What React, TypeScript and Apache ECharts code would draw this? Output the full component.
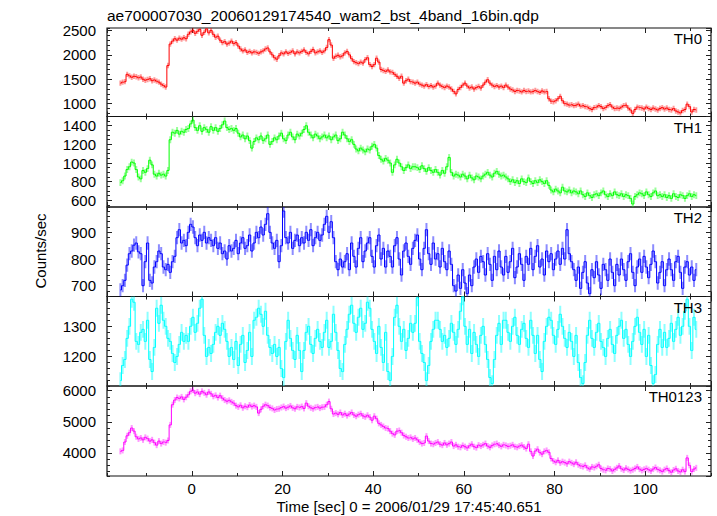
import React, { useEffect, useRef } from "react";
import * as echarts from "echarts";

const TITLE = "ae700007030_20060129174540_wam2_bst_4band_16bin.qdp";
const X_NAME = "Time [sec] 0 = 2006/01/29 17:45:40.651";
const Y_NAME = "Counts/sec";
const PANEL_NAMES = ["TH0", "TH1", "TH2", "TH3", "TH0123"];

// time bins: centre of first bin and bin width (sec)
const T_START = -15.75;
const BIN = 0.5;
const X_MIN = -18.7;
const X_MAX = 114.5;
const X_MAJOR = 20;
const X_MINOR = 10;

const TH0 = [
  1420, 1440, 1450, 1600, 1570, 1540, 1560, 1550, 1530, 1545,
  1500, 1480, 1495, 1510, 1470, 1485, 1460, 1440, 1400, 1370,
  1340, 1780, 2220, 2280, 2330, 2300, 2340, 2320, 2350, 2330,
  2420, 2470, 2500, 2440, 2480, 2520, 2400, 2460, 2530, 2450,
  2500, 2420, 2360, 2380, 2300, 2250, 2270, 2220, 2240, 2280,
  2230, 2250, 2180, 2120, 2080, 2100, 2050, 2070, 2040, 2060,
  2050, 2030, 2060, 2080, 2120, 2140, 2060, 2000, 1940, 1910,
  1980, 2040, 2020, 2060, 2030, 2050, 2080, 2020, 2060, 2040,
  2070, 2100, 2050, 2020, 2070, 2110, 2040, 2060, 2080, 2050,
  2080, 2150, 2310, 2200, 1930, 1970, 1990, 1960, 1980, 2040,
  2070, 2000, 1920, 1860, 1840, 1820, 1850, 1830, 1900, 1940,
  1800, 1760, 1800, 1930, 1850, 1700, 1680, 1660, 1690, 1650,
  1640, 1600, 1560, 1520, 1560, 1420, 1470, 1500, 1450, 1440,
  1420, 1440, 1400, 1380, 1360, 1390, 1350, 1370, 1340, 1360,
  1420, 1380, 1350, 1330, 1360, 1340, 1300, 1250, 1200, 1290,
  1330, 1380, 1420, 1360, 1320, 1340, 1300, 1330, 1350, 1320,
  1380, 1440, 1490, 1420, 1380, 1350, 1370, 1340, 1360, 1330,
  1380, 1340, 1300, 1280, 1250, 1270, 1260, 1240, 1270, 1250,
  1260, 1240, 1250, 1270, 1250, 1230, 1260, 1240, 1250, 1100,
  1050, 1040, 1060, 1100, 1150, 1060, 1000, 990, 970, 980,
  960, 970, 990, 950, 960, 940, 930, 900, 880, 920,
  930, 960, 940, 900, 920, 960, 980, 930, 900, 910,
  900, 930, 960, 970, 910, 870, 800, 880, 930, 920,
  910, 890, 930, 900, 880, 910, 890, 870, 900, 920,
  890, 910, 880, 870, 900, 850, 830, 810, 860, 880,
  990, 940, 830, 880, 870,
];

const TH1 = [
  790, 810, 860, 930, 960, 1010, 1000, 930, 850, 830,
  920, 900, 940, 1030, 980, 880, 860, 890, 870, 880,
  860, 920, 1250, 1330, 1320, 1350, 1310, 1340, 1330, 1360,
  1370, 1420, 1460, 1380, 1350, 1400, 1340, 1380, 1360, 1330,
  1390, 1350, 1380, 1340, 1370, 1410, 1450, 1380, 1360, 1370,
  1350, 1370, 1320, 1280, 1300, 1260, 1290, 1240, 1160, 1230,
  1270, 1250, 1290, 1240, 1260, 1300, 1200, 1230, 1270, 1250,
  1290, 1320, 1260, 1240, 1300, 1330, 1280, 1250, 1310, 1290,
  1320, 1360, 1400, 1330, 1300, 1270, 1310, 1290, 1260, 1280,
  1300, 1270, 1290, 1250, 1280, 1300, 1240, 1260, 1330, 1300,
  1260, 1230, 1250, 1200, 1150, 1130, 1160, 1140, 1120, 1150,
  1140, 1180, 1200, 1160, 1080, 1040, 1020, 1050, 1030, 1000,
  900, 980, 1040, 1000, 960, 920, 950, 980, 940, 960,
  960, 950, 930, 970, 940, 910, 950, 920, 900, 930,
  900, 870, 920, 890, 960, 1060, 900, 860, 880, 870,
  850, 880, 860, 830, 870, 840, 820, 860, 850, 830,
  860, 880, 900, 870, 850, 890, 910, 880, 860, 870,
  850, 830, 800, 820, 790, 810, 780, 830, 800, 790,
  840, 800, 780, 810, 790, 820, 800, 780, 810, 760,
  710, 690, 720, 700, 680, 740, 700, 690, 710, 680,
  700, 690, 670, 700, 660, 640, 680, 650, 630, 660,
  670, 650, 680, 700, 660, 640, 670, 650, 690, 660,
  650, 670, 640, 660, 650, 620, 560, 640, 660, 680,
  670, 650, 690, 660, 640, 680, 700, 650, 660, 640,
  660, 630, 650, 620, 670, 640, 630, 660, 650, 620,
  650, 670, 640, 660, 650,
];

const TH2 = [
  684, 700, 720, 777, 820, 830, 852, 860, 827, 820,
  700, 790, 860, 720, 710, 770, 790, 830, 820, 770,
  760, 780, 750, 790, 810, 880, 910, 860, 870, 850,
  900, 930, 920, 880, 850, 890, 870, 900, 860, 880,
  870, 850, 880, 840, 860, 820, 830, 800, 850, 830,
  840, 870, 820, 860, 880, 840, 850, 890, 830, 860,
  900, 880, 920, 890, 930, 970, 900, 860, 840, 870,
  790, 850, 980, 880, 860, 900, 840, 870, 890, 850,
  880, 860, 900, 870, 910, 850, 880, 900, 870, 890,
  930, 960, 900, 940, 880, 790, 760, 800, 770, 790,
  820, 760, 860, 810, 770, 840, 880, 790, 830, 860,
  880, 810, 770, 850, 890, 800, 840, 770, 830, 810,
  770, 850, 880, 800, 740, 830, 860, 810, 780, 840,
  870, 890, 800, 760, 840, 910, 820, 780, 860, 800,
  820, 770, 840, 790, 760, 830, 780, 700, 680, 740,
  690, 760, 710, 670, 740, 700, 770, 800, 750, 810,
  790, 740, 820, 780, 720, 810, 760, 830, 770, 740,
  810, 750, 790, 840, 730, 770, 820, 780, 720, 810,
  780, 840, 760, 810, 850, 770, 800, 740, 830, 790,
  820, 760, 800, 830, 780, 840, 800, 910, 820, 790,
  760, 720, 770, 690, 750, 790, 710, 670, 760, 730,
  790, 740, 690, 780, 760, 720, 800, 750, 700, 780,
  740, 800, 760, 720, 790, 820, 750, 700, 770, 800,
  750, 810, 770, 730, 780, 830, 790, 710, 750, 790,
  700, 760, 800, 760, 720, 790, 810, 750, 690, 770,
  790, 740, 770, 720, 760,
];

const TH3 = [
  1120, 1170, 1190, 1260, 1300, 1390, 1380, 1250, 1240, 1280,
  1290, 1250, 1320, 1190, 1150, 1230, 1360, 1310, 1370, 1320,
  1300, 1260, 1250, 1210, 1180, 1200, 1240, 1280, 1250, 1270,
  1250, 1300, 1330, 1280, 1310, 1360, 1390, 1270, 1200, 1230,
  1210, 1240, 1280, 1300, 1270, 1310, 1290, 1250, 1200, 1230,
  1190, 1250, 1170, 1240, 1270, 1180, 1220, 1280, 1200, 1320,
  1330, 1360, 1340, 1300, 1350, 1270, 1230, 1210, 1240, 1200,
  1230, 1160, 1130, 1250, 1320, 1260, 1220, 1190, 1270, 1220,
  1150, 1220, 1280, 1300, 1240, 1210, 1260, 1290, 1250, 1230,
  1280, 1320, 1230, 1250, 1340, 1280, 1220, 1160, 1150, 1240,
  1290, 1340, 1370, 1310, 1280, 1330, 1360, 1290, 1310, 1380,
  1360, 1290, 1250, 1210, 1300, 1230, 1180, 1280, 1150, 1120,
  1200, 1330, 1370, 1300, 1250, 1290, 1220, 1260, 1310, 1280,
  1310, 1395, 1250, 1210, 1180, 1120, 1170, 1250, 1290, 1320,
  1320, 1290, 1250, 1270, 1230, 1260, 1310, 1280, 1240, 1290,
  1350, 1398, 1300, 1240, 1290, 1210, 1280, 1240, 1200, 1270,
  1300, 1240, 1190, 1130, 1110, 1190, 1270, 1310, 1240, 1320,
  1320, 1280, 1250, 1300, 1330, 1270, 1240, 1290, 1310, 1260,
  1230, 1320, 1270, 1210, 1270, 1190, 1150, 1250, 1300, 1330,
  1320, 1270, 1240, 1290, 1340, 1300, 1260, 1230, 1280, 1250,
  1200, 1270, 1180, 1130, 1110, 1180, 1270, 1320, 1260, 1230,
  1280, 1310, 1250, 1230, 1200, 1260, 1290, 1240, 1210, 1270,
  1300, 1320, 1260, 1290, 1240, 1200, 1250, 1300, 1330, 1280,
  1240, 1290, 1200, 1270, 1170, 1110, 1140, 1240, 1290, 1230,
  1280, 1230, 1260, 1310, 1250, 1290, 1330, 1270, 1300, 1350,
  1390, 1300, 1220, 1330, 1290,
];

const TH0123 = [
  4050, 4080, 4350, 4550, 4650, 4800, 4700, 4520, 4450, 4480,
  4420, 4500, 4460, 4380, 4420, 4330, 4250, 4380, 4300, 4350,
  4330, 4400, 4900, 5550, 5700, 5780, 5750, 5800, 5720, 5790,
  5870, 5980, 6020, 5920, 5960, 5890, 5980, 5930, 5870, 5960,
  5900, 5820, 5850, 5780, 5840, 5760, 5700, 5660, 5690, 5640,
  5600, 5520, 5480, 5530, 5450, 5500, 5470, 5540, 5490, 5520,
  5480, 5280, 5400, 5500, 5550, 5520, 5460, 5430, 5380, 5410,
  5420, 5460, 5490, 5440, 5470, 5510, 5450, 5420, 5480, 5460,
  5490, 5430, 5600, 5500, 5450, 5420, 5460, 5480, 5440, 5470,
  5480, 5550, 5650, 5420, 5250, 5280, 5240, 5300, 5220, 5260,
  5200, 5250, 5300, 5220, 5180, 5230, 5260, 5190, 5160, 5210,
  5150, 5050, 5180, 5100, 4950, 4900, 4850, 4800, 4780, 4700,
  4620, 4580, 4700, 4720, 4650, 4560, 4520, 4480, 4500, 4450,
  4480, 4420, 4350, 4300, 4320, 4540, 4380, 4300, 4280, 4320,
  4350, 4280, 4250, 4320, 4260, 4300, 4350, 4220, 4260, 4200,
  4180, 4240, 4200, 4160, 4230, 4280, 4200, 4170, 4250, 4220,
  4260, 4300, 4220, 4180, 4240, 4280, 4300, 4250, 4210, 4260,
  4240, 4210, 4230, 4260, 4200, 4180, 4220, 4250, 4190, 4140,
  4280, 4050, 3900, 4060, 4120, 4010, 3960, 4050, 4080, 4020,
  3820, 3740, 3700, 3760, 3680, 3720, 3690, 3650, 3720, 3680,
  3640, 3700, 3620, 3580, 3560, 3600, 3520, 3480, 3550, 3530,
  3570, 3620, 3500, 3460, 3440, 3500, 3480, 3420, 3470, 3520,
  3580, 3490, 3450, 3510, 3470, 3430, 3460, 3500, 3550, 3480,
  3440, 3470, 3500, 3460, 3420, 3480, 3530, 3470, 3440, 3400,
  3460, 3500, 3430, 3380, 3450, 3490, 3420, 3390, 3460, 3400,
  3840, 3600, 3400, 3480, 3520,
];

const SERIES_VALUES = [TH0, TH1, TH2, TH3, TH0123];
const ERRORS = [55, 37, 25, 28, 97];
const Y_MINS = [737, 528, 659.5, 1102, 3258];
const Y_MAXS = [2549, 1499, 995, 1399, 6151];
const Y_MAJOR = [500, 200, 100, 100, 1000];
const Y_MINOR = [100, 50, 20, 20, 200];

const LINE_COLORS = ["#ff0000", "#00ff00", "#0000ff", "#00ffff", "#ff00ff"];
const ERR_COLORS = [
  "rgba(255,0,0,0.4)",
  "rgba(0,255,0,0.4)",
  "rgba(0,0,255,0.45)",
  "rgba(0,255,255,0.45)",
  "rgba(255,0,255,0.4)",
];

const GRID_TOPS = [28, 116.5, 207, 296.5, 386];
const GRID_BOTTOMS = [116.5, 207, 296.5, 386, 476];
const PLOT_LEFT = 107;
const PLOT_RIGHT = 711;
const FONT = '"Liberation Sans", Arial, Helvetica, sans-serif';

function xAxis(gi: number, step: number, pos: string, len: number, labels: boolean) {
  return {
    type: "value",
    gridIndex: gi,
    min: X_MIN,
    max: X_MAX,
    minInterval: step,
    maxInterval: step,
    splitNumber: Math.round((X_MAX - X_MIN) / step),
    position: pos,
    axisLine: { show: false, onZero: false },
    axisTick: { show: true, inside: true, length: len, lineStyle: { color: "#222", width: 1 } },
    axisLabel: {
      show: labels,
      showMinLabel: false,
      showMaxLabel: false,
      margin: 5,
      color: "#000",
      fontSize: 15,
      fontFamily: FONT,
      formatter: (v: number) => String(v),
    },
    splitLine: { show: false },
  };
}

function yAxis(gi: number, step: number, pos: string, len: number, labels: boolean) {
  return {
    type: "value",
    gridIndex: gi,
    min: Y_MINS[gi],
    max: Y_MAXS[gi],
    minInterval: step,
    maxInterval: step,
    splitNumber: Math.round((Y_MAXS[gi] - Y_MINS[gi]) / step),
    position: pos,
    axisLine: { show: false, onZero: false },
    axisTick: { show: true, inside: true, length: len, lineStyle: { color: "#222", width: 1 } },
    axisLabel: {
      show: labels,
      showMinLabel: false,
      showMaxLabel: false,
      margin: 11,
      color: "#000",
      fontSize: 15,
      fontFamily: FONT,
      formatter: (v: number) => String(v),
    },
    splitLine: { show: false },
  };
}

export default function App() {
  const ref = useRef<HTMLDivElement>(null);

  useEffect(() => {
    document.body.style.margin = "0";
    if (!ref.current) return;
    const chart = echarts.init(ref.current, null, { renderer: "svg" });

    const grids: any[] = [];
    const xAxes: any[] = [];
    const yAxes: any[] = [];
    const series: any[] = [];
    const graphics: any[] = [];

    for (let i = 0; i < 5; i++) {
      grids.push({
        left: PLOT_LEFT,
        width: PLOT_RIGHT - PLOT_LEFT,
        top: GRID_TOPS[i],
        height: GRID_BOTTOMS[i] - GRID_TOPS[i],
        show: true,
        borderColor: "#111",
        borderWidth: 1.2,
        backgroundColor: "transparent",
      });
      xAxes.push(xAxis(i, X_MAJOR, "bottom", 5, i === 4));
      xAxes.push(xAxis(i, X_MINOR, "bottom", 3, false));
      xAxes.push(xAxis(i, X_MAJOR, "top", 5, false));
      xAxes.push(xAxis(i, X_MINOR, "top", 3, false));
      yAxes.push(yAxis(i, Y_MAJOR[i], "left", 5, true));
      yAxes.push(yAxis(i, Y_MINOR[i], "left", 3, false));
      yAxes.push(yAxis(i, Y_MAJOR[i], "right", 5, false));
      yAxes.push(yAxis(i, Y_MINOR[i], "right", 3, false));

      const vals = SERIES_VALUES[i];
      const err = ERRORS[i];
      const errColor = ERR_COLORS[i];
      series.push({
        type: "custom",
        xAxisIndex: i * 4,
        yAxisIndex: i * 4,
        clip: true,
        silent: true,
        z: 1,
        data: vals.map((v, j) => [T_START + j * BIN, v, err]),
        encode: { x: 0, y: 1 },
        renderItem: (_p: any, api: any) => {
          const x = api.value(0);
          const v = api.value(1);
          const e = api.value(2);
          const a = api.coord([x, v - e]);
          const b = api.coord([x, v + e]);
          return {
            type: "line",
            shape: { x1: a[0], y1: a[1], x2: b[0], y2: b[1] },
            style: { stroke: errColor, lineWidth: 2 },
          };
        },
      });
      series.push({
        type: "line",
        xAxisIndex: i * 4,
        yAxisIndex: i * 4,
        step: "middle",
        symbol: "none",
        showSymbol: false,
        clip: true,
        silent: true,
        z: 2,
        lineStyle: { color: LINE_COLORS[i], width: 1 },
        data: vals.map((v, j) => [T_START + j * BIN, v]),
      });

      graphics.push({
        type: "text",
        x: 702,
        y: GRID_TOPS[i] + 10.5,
        z: 100,
        style: {
          text: PANEL_NAMES[i],
          font: `15px ${FONT}`,
          fill: "#000",
          align: "right",
          verticalAlign: "middle",
        },
      });
    }

    graphics.push({
      type: "text",
      x: 107,
      y: 15,
      style: { text: TITLE, font: `15.5px ${FONT}`, fill: "#000", align: "left", verticalAlign: "middle" },
    });
    graphics.push({
      type: "text",
      x: (PLOT_LEFT + PLOT_RIGHT) / 2,
      y: 506,
      style: { text: X_NAME, font: `15px ${FONT}`, fill: "#000", align: "center", verticalAlign: "middle" },
    });
    graphics.push({
      type: "text",
      x: 40,
      y: 251,
      rotation: Math.PI / 2,
      style: { text: Y_NAME, font: `15px ${FONT}`, fill: "#000", align: "center", verticalAlign: "middle" },
    });

    chart.setOption({
      animation: false,
      backgroundColor: "#ffffff",
      grid: grids,
      xAxis: xAxes,
      yAxis: yAxes,
      series,
      graphic: graphics,
    });

    return () => chart.dispose();
  }, []);

  return <div ref={ref} style={{ width: 717, height: 516 }} />;
}
